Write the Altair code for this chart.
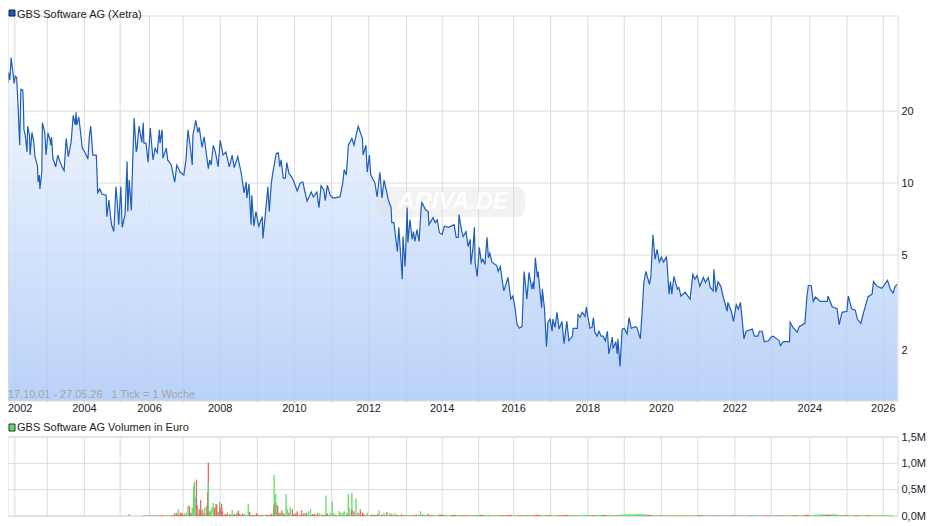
import altair as alt
import pandas as pd

# x axis counts ticks, 1 tick = 1 week
year_week = [11, 64, 117, 168, 210, 258, 311, 364, 417, 470, 523, 577, 628,
             680, 730, 783, 836, 888, 941, 993, 1046, 1098, 1153, 1206, 1258]
year_label = [str(y) for y in range(2002, 2027)]

# (week tick, price in euro)
price_2002 = [
    (0, 26.3), (1, 29), (3, 27), (5, 33.4), (8, 29), (10, 26.1), (12, 28), (14, 27.7), (16, 22.2), (19, 14.4),
    (21, 24.7), (24, 24.5), (25, 21.5), (26, 16.7), (28, 15.9), (31, 13.5), (32, 17.3), (35, 15.9), (36, 13.1),
    (39, 16.3), (42, 14.8), (44, 12.9), (48, 11.8), (49, 10.1), (51, 10.8), (52, 9.45), (55, 11.1), (56, 17.9),
    (60, 16.2), (62, 13.1), (65, 16.2), (68, 15.1), (69, 14.4), (70, 15.6), (72, 12.7), (76, 11.7), (79, 13.1),
    (82, 12.3), (85, 11.7), (88, 11.25), (91, 15.4), (94, 12.9), (98, 14.8), (101, 19.2), (104, 17.5), (105, 19.8),
    (106, 17.5), (109, 18.9), (114, 14), (118, 13.4), (122, 12.6), (124, 15.6), (126, 17.3), (129, 13.1), (134, 13.1),
    (136, 9.1), (139, 9.45), (142, 9), (148, 8.9), (149, 7.24), (152, 8.5), (154, 7.38), (156, 6.66), (159, 6.27),
    (162, 9.65), (164, 8.3), (166, 6.7), (169, 9.65), (171, 6.53), (175, 7.38), (178, 12.3), (179, 7.6), (181, 10.3),
    (184, 7.68), (186, 12.3), (188, 18.7), (191, 13.5), (192, 13.8), (195, 17.3), (199, 14.8), (201, 17.9), (202, 14.7),
    (205, 14.7), (208, 12.2), (211, 17), (214, 13.5), (215, 12.5), (218, 14), (221, 13.4), (224, 16.7), (225, 14.7),
    (228, 16.7), (229, 12.7), (234, 14), (236, 12.5), (241, 11.9), (246, 10.1), (249, 11.9), (254, 11.1), (259, 10.8),
]
price_2007 = [
    (262, 12.5), (265, 16.7), (269, 13.5), (271, 11.9), (272, 15.9), (276, 18.3), (279, 16.3), (281, 17.1), (285, 14.1),
    (288, 15.6), (294, 11.5), (296, 12.5), (298, 11.9), (301, 14.4), (304, 13.5), (308, 11.7), (311, 15.1), (315, 13.1),
    (319, 13.5), (324, 11.7), (328, 13.1), (331, 11.6), (336, 12.9), (341, 11), (345, 9.1), (348, 10.1), (349, 8.66),
    (352, 9.9), (355, 6.7), (356, 8.9), (359, 6.6), (362, 7.6), (366, 6.6), (371, 7.24), (372, 5.87), (375, 7.17),
    (379, 9.65), (381, 7.6), (384, 10), (386, 11), (391, 13.3), (394, 13.4), (396, 11.7), (398, 12.5), (401, 10.5),
    (404, 10.5), (406, 12.2), (409, 11), (414, 10.5), (418, 9.8), (421, 9.27), (425, 10), (429, 10.1), (432, 9.18),
    (435, 8.4), (441, 9.18), (444, 8.75), (449, 9.18), (452, 7.9), (455, 9.74), (459, 9.36), (461, 8.45), (464, 9.8),
    (468, 8.9), (472, 8.66), (482, 8.75), (486, 10), (488, 11.4), (491, 10.8), (494, 14.4), (499, 15.4), (502, 14.4),
    (508, 17.3), (514, 15.4), (515, 13.1), (519, 14.4), (521, 11.1), (524, 13.1), (526, 10.8), (532, 10), (535, 8.75),
    (539, 11.1), (542, 8.66), (545, 10.3), (548, 9.36), (551, 8.5), (555, 7.9), (556, 6.83), (559, 6.83), (564, 5.16),
    (566, 6.53), (571, 3.96), (572, 5.98), (575, 4.48), (578, 7.9), (579, 5.65), (582, 7.03), (585, 5.82), (587, 6.27),
    (589, 5.7), (592, 6.39), (595, 5.7), (598, 7.9), (599, 8.3), (604, 7.75), (608, 7.6), (609, 6.7), (615, 7.17),
    (618, 6.83), (621, 7.03), (624, 6.2), (628, 6.1), (631, 6.6), (637, 6.53), (645, 6.7), (648, 5.93), (651, 5.93),
]
price_2015 = [
    (652, 7.38), (656, 6.27), (658, 5.98), (662, 6.27), (665, 5.43), (668, 5.82), (669, 4.57), (672, 5.38), (674, 6.53),
    (675, 4.67), (678, 4.07), (681, 5.38), (684, 4.67), (686, 4.8), (689, 4.57), (692, 5.93), (694, 4.87), (696, 5.1),
    (699, 4.67), (706, 4.52), (708, 4.27), (711, 4.48), (714, 3.87), (716, 3.54), (722, 4.03), (726, 3.27), (729, 3.37),
    (732, 3.01), (735, 2.56), (738, 2.47), (742, 2.51), (745, 4.27), (749, 3.27), (752, 4.23), (756, 3.6), (758, 3.87),
    (759, 3.6), (761, 4.87), (764, 4.03), (765, 4.27), (767, 3.7), (770, 3.01), (771, 3.6), (774, 3.01), (777, 2.07),
    (779, 2.62), (782, 2.7), (785, 2.4), (786, 2.7), (789, 2.49), (792, 2.88), (795, 2.45), (799, 2.64), (802, 2.13),
    (806, 2.64), (809, 2.19), (814, 2.29), (815, 2.47), (821, 2.47), (822, 2.82), (825, 2.75), (828, 2.88), (832, 2.77),
    (834, 3.04), (836, 2.77), (839, 2.47), (842, 2.49), (844, 2.74), (846, 2.38), (849, 2.29), (852, 2.4), (855, 2.29),
    (858, 2.29), (861, 2.19), (864, 2.4), (866, 1.93), (871, 2.27), (872, 2.03), (876, 2.17), (878, 1.93), (879, 2.23),
    (882, 1.71), (885, 2.45), (888, 2.47), (892, 2.34), (895, 2.74), (898, 2.47), (904, 2.51), (906, 2.49), (911, 2.23),
    (914, 3.04), (916, 3.84), (919, 4.27), (924, 3.77), (926, 4.07), (929, 6.08), (932, 4.8), (935, 5.28), (938, 4.67),
]
price_2020 = [
    (941, 4.9), (944, 4.67), (948, 4.9), (949, 4.7), (952, 3.43), (954, 3.87), (956, 3.43), (959, 4.07), (964, 3.6),
    (966, 3.66), (969, 3.37), (975, 3.5), (982, 3.27), (986, 4.15), (989, 3.96), (992, 4.1), (996, 3.7), (1001, 4.03),
    (1004, 3.84), (1008, 4.03), (1011, 3.66), (1015, 3.54), (1016, 4.36), (1019, 3.5), (1022, 3.87), (1026, 3.7),
    (1029, 3.37), (1035, 2.91), (1036, 3.17), (1041, 2.91), (1044, 2.64), (1048, 3.1), (1051, 2.97), (1054, 3.17),
    (1056, 2.77), (1059, 2.23), (1062, 2.4), (1071, 2.45), (1074, 2.29), (1079, 2.29), (1081, 2.4), (1085, 2.4),
    (1088, 2.17), (1094, 2.19), (1098, 2.27), (1101, 2.29), (1106, 2.23), (1109, 2.2), (1111, 2.09), (1115, 2.17),
    (1124, 2.17), (1125, 2.62), (1129, 2.49), (1135, 2.38), (1138, 2.51), (1146, 2.59), (1149, 3.37), (1151, 3.73),
    (1155, 3.73), (1158, 3.2), (1161, 3.34), (1168, 3.2), (1178, 3.2), (1179, 3.37), (1185, 3.04), (1192, 2.98),
    (1195, 2.56), (1199, 2.88), (1206, 2.91), (1208, 3.37), (1213, 2.97), (1218, 2.94), (1221, 2.7), (1226, 2.59),
    (1229, 2.82), (1234, 3.17), (1236, 3.34), (1242, 3.43), (1244, 3.87), (1249, 3.7), (1256, 3.63), (1264, 3.92),
    (1268, 3.6), (1272, 3.47), (1275, 3.7), (1278, 3.77),
]

# weekly volume, million euro, g = up week, r = down week
vol_spikes = [
    (181, .03, 'r'), (246, .05, 'r'), (249, .06, 'r'), (251, .13, 'g'), (254, .06, 'r'), (256, .06, 'r'),
    (260, .05, 'g'), (263, .06, 'g'), (265, .2, 'g'), (267, .19, 'r'), (269, .06, 'r'), (271, .16, 'g'),
    (273, .57, 'g'), (274, .65, 'g'), (275, .35, 'g'), (277, .69, 'r'), (278, .21, 'r'), (281, .13, 'r'),
    (283, .3, 'r'), (285, .11, 'r'), (286, .13, 'g'), (288, .05, 'r'), (289, .16, 'g'), (292, .2, 'r'),
    (293, .46, 'r'), (294, 1.01, 'r'), (294, .63, 'g'), (295, .08, 'r'), (297, .11, 'g'), (299, .16, 'g'),
    (301, .25, 'g'), (303, .16, 'r'), (305, .23, 'r'), (306, .22, 'r'), (308, .08, 'r'), (310, .27, 'g'),
    (311, .16, 'r'), (313, .23, 'r'), (314, .09, 'r'), (318, .04, 'r'), (321, .06, 'r'), (325, .04, 'r'),
    (328, .11, 'g'), (331, .04, 'r'), (334, .06, 'g'), (336, .06, 'g'), (337, .1, 'r'), (339, .04, 'r'),
    (343, .05, 'r'), (346, .04, 'g'), (351, .23, 'g'), (353, .08, 'r'), (356, .02, 'r'), (360, .03, 'g'),
    (363, .05, 'r'), (368, .02, 'g'), (371, .03, 'r'), (377, .03, 'r'), (384, .04, 'r'), (387, .11, 'g'),
    (388, .78, 'g'), (388, .22, 'r'), (390, .42, 'g'), (391, .25, 'g'), (393, .2, 'r'), (395, .06, 'r'),
    (397, .06, 'g'), (399, .11, 'r'), (401, .05, 'r'), (403, .03, 'r'), (405, .42, 'g'), (407, .13, 'g'),
    (409, .06, 'r'), (411, .16, 'g'), (414, .13, 'r'), (416, .04, 'r'), (419, .05, 'r'), (421, .09, 'r'),
    (424, .03, 'g'), (427, .11, 'r'), (430, .05, 'r'), (432, .05, 'g'), (434, .06, 'r'), (437, .09, 'g'),
    (440, .13, 'g'), (443, .04, 'r'), (446, .04, 'r'), (450, .06, 'r'), (453, .05, 'g'), (457, .03, 'r'),
    (461, .04, 'g'), (462, .39, 'g'), (464, .05, 'r'), (468, .06, 'g'), (471, .27, 'g'), (473, .05, 'g'),
    (476, .03, 'r'), (481, .09, 'g'), (483, .06, 'g'), (486, .06, 'g'), (488, .09, 'g'), (492, .05, 'r'),
    (494, .42, 'g'), (495, .16, 'g'), (498, .11, 'g'), (499, .44, 'g'), (499, .13, 'r'), (502, .09, 'r'),
    (505, .33, 'g'), (508, .06, 'r'), (511, .13, 'r'), (514, .06, 'r'), (516, .04, 'r'), (521, .06, 'g'),
    (527, .03, 'r'), (531, .03, 'g'), (536, .04, 'r'), (538, .11, 'g'), (542, .03, 'r'), (545, .06, 'g'),
    (549, .08, 'r'), (553, .06, 'g'), (556, .04, 'r'), (560, .05, 'g'), (563, .03, 'r'), (570, .03, 'r'),
    (577, .02, 'g'), (582, .02, 'r'), (591, .03, 'r'), (594, .03, 'g'), (597, .09, 'g'), (600, .03, 'r'),
    (608, .04, 'r'), (615, .02, 'g'), (623, .03, 'r'), (627, .03, 'r'), (632, .01, 'g'),
]

# the thin strip of small volumes, a reading every 8 weeks from week 204
base_m = [
    .008, .01, .008, .012, .01, .012, .02, .025, .02, .02, .025, .02, .018, .02, .018, .02, .02, .015, .02, .018,
    .02, .015, .018, .02, .02, .018, .015, .02, .018, .02, .015, .02, .018, .015, .015, .012, .02, .015, .018, .012,
    .015, .018, .012, .015, .012, .018, .015, .012, .015, .012, .02, .015, .012, .018, .015, .02, .018, .015, .012, .018,
    .02, .015, .012, .018, .015, .02, .012, .015, .018, .012, .02, .015, .018, .012, .015, .02, .018, .012, .015, .02,
    .015, .018, .02, .015, .012, .025, .03, .03, .035, .03, .02, .015, .012, .01, .012, .01, .015, .01, .012, .015,
    .01, .012, .01, .008, .01, .012, .008, .01, .012, .01, .008, .012, .01, .012, .01, .012, .015, .012, .02, .015,
    .025, .03, .025, .03, .02, .015, .012, .015, .012, .015, .012, .01, .015, .012,
]
base_side = list(
    "rgrrgrrrgrrrgrrgrrgr"
    "rgrrgrgrrgrgrrgrgrgr"
    "grrgrgrgrrgrgrgrgrrg"
    "rgrgrrgrgrrgrgrrgrgg"
    "rgrgrgggggrgrrgrgrgr"
    "rgrrgrrgrgrrgrrgrgrg"
    "ggrggrgrgrgrgg"
)
base_week = [204 + 8 * i for i in range(len(base_m))]

price_ticks = [2, 5, 10, 20]
vol_ticks = [0, .5, 1, 1.5]
price_floor = 1.226

GRID = '#dadada'
FONT = 'Liberation Sans'

x_scale = alt.Scale(domain=[0, 64, 1279], range=[0, 39.3, 890], nice=False, zero=False, padding=0)
price_scale = alt.Scale(type='log', domain=[price_floor, 50], range=[385, 0], nice=False)
vol_scale = alt.Scale(domain=[0, 1.5], range=[500, 421], nice=False)
side_color = alt.Scale(domain=['g', 'r'], range=['#62dc66', '#e06868'])

px = alt.X('week:Q', scale=x_scale, axis=None)
py = alt.Y('price:Q', scale=price_scale, axis=None)
vy = alt.Y('vol:Q', scale=vol_scale, axis=None, stack=None)

prices = pd.DataFrame(price_2002 + price_2007 + price_2015 + price_2020, columns=['week', 'price'])
prices['floor'] = price_floor
spikes = pd.DataFrame(vol_spikes, columns=['week', 'vol', 'side'])
strip = pd.DataFrame({'week': base_week, 'vol': base_m, 'side': base_side[:len(base_m)]})
years = pd.DataFrame({'week': year_week, 'label': year_label})
even = years[::2]
one = pd.DataFrame({'a': [0]})

# grid
grid_top = alt.Chart(years).mark_rule(color=GRID, strokeWidth=1).encode(x=px, y=alt.value(0), y2=alt.value(387))
grid_low = alt.Chart(years).mark_rule(color=GRID, strokeWidth=1).encode(x=px, y=alt.value(421), y2=alt.value(500))
price_grid = alt.Chart(pd.DataFrame({'price': price_ticks})).mark_rule(color=GRID, strokeWidth=1).encode(
    y=alt.Y('price:Q', scale=price_scale, axis=alt.Axis(
        orient='right', values=price_ticks, format='d', title=None, domain=False, ticks=False, grid=False,
        labelPadding=3, labelFontSize=11, labelFont=FONT, labelColor='#222')),
    x=alt.value(0), x2=alt.value(890))
vol_grid = alt.Chart(pd.DataFrame({'vol': vol_ticks})).mark_rule(color=GRID, strokeWidth=1).encode(
    y=alt.Y('vol:Q', scale=vol_scale, axis=alt.Axis(
        orient='right', values=vol_ticks, title=None, domain=False, ticks=False, grid=False,
        labelExpr="replace(format(datum.value, '.1f'), '.', ',') + 'M'",
        labelPadding=3, labelFontSize=11, labelFont=FONT, labelColor='#222')),
    x=alt.value(0), x2=alt.value(890))

area = alt.Chart(prices).mark_area(
    opacity=0.85,
    orient='vertical',
    color=alt.Gradient(
        gradient='linear',
        stops=[alt.GradientStop(color='#f4f8ff', offset=0),
               alt.GradientStop(color='#adcaf7', offset=1)],
        x1=1, x2=1, y1=0, y2=1)
).encode(x=px, y=py, y2='floor:Q')

# watermark
mark_bg = alt.Chart(one).mark_rect(color='#dedede', opacity=0.4, cornerRadius=8).encode(
    x=alt.value(369), x2=alt.value(517), y=alt.value(171), y2=alt.value(201))
mark_txt = alt.Chart(one).mark_text(
    text='ARIVA.DE', font=FONT, fontSize=23.5, fontWeight='bold', fontStyle='italic',
    color='#ffffff', opacity=0.95, align='center', baseline='middle'
).encode(x=alt.value(445), y=alt.value(186))

line = alt.Chart(prices).mark_line(color='#1f5dbd', strokeWidth=1.2).encode(x=px, y=py)

strip_bars = alt.Chart(strip).mark_bar(width=5.6).encode(
    x=px, y=vy, color=alt.Color('side:N', scale=side_color, legend=None))
spike_bars = alt.Chart(spikes).mark_bar(width=1.3).encode(
    x=px, y=vy, color=alt.Color('side:N', scale=side_color, legend=None))

frame_top = alt.Chart(one).mark_rect(fill=None, stroke=GRID).encode(
    x=alt.value(0), x2=alt.value(890), y=alt.value(0), y2=alt.value(385))
frame_low = alt.Chart(one).mark_rect(fill=None, stroke=GRID).encode(
    x=alt.value(0), x2=alt.value(890), y=alt.value(421), y2=alt.value(500))

# year labels, the first one cannot hang over the page margin
year_text = alt.Chart(even[1:]).mark_text(font=FONT, fontSize=11, color='#222', baseline='middle').encode(
    x=px, y=alt.value(393), text='label:N')
first_year = alt.Chart(one).mark_text(
    text=year_label[0], font=FONT, fontSize=11, color='#222', baseline='middle', align='left'
).encode(x=alt.value(0), y=alt.value(393))

info = alt.Chart(one).mark_text(
    text='17.10.01 - 27.05.26\u00a0\u00a0\u00a01 Tick = 1 Woche', font=FONT, fontSize=10.9, color='#a6a6a6',
    align='left', baseline='middle'
).encode(x=alt.value(0), y=alt.value(379))

# legends
sw_top = alt.Chart(one).mark_rect(fill='#1c57b5', stroke='#14233f').encode(
    x=alt.value(1), x2=alt.value(7), y=alt.value(-6), y2=alt.value(0))
sw_low = alt.Chart(one).mark_rect(fill='#62dc66', stroke='#1d3a20').encode(
    x=alt.value(1), x2=alt.value(7), y=alt.value(408), y2=alt.value(415))
leg_top = alt.Chart(one).mark_text(
    text='GBS Software AG (Xetra)', font=FONT, fontSize=11, color='#222', align='left', baseline='alphabetic'
).encode(x=alt.value(9), y=alt.value(1.5))
leg_low = alt.Chart(one).mark_text(
    text='GBS Software AG Volumen in Euro', font=FONT, fontSize=11, color='#222', align='left', baseline='middle'
).encode(x=alt.value(9), y=alt.value(412))

chart = alt.layer(
    grid_top, grid_low, price_grid, vol_grid, area, mark_bg, mark_txt, line,
    frame_top, frame_low, strip_bars, spike_bars,
    year_text, first_year, info, sw_top, sw_low, leg_top, leg_low
).resolve_scale(y='independent').properties(
    width=890, height=500,
    autosize=alt.AutoSizeParams(type='none'),
    padding={'left': 0, 'top': 8, 'right': 34, 'bottom': 8}
).configure_view(stroke=None)

chart.save("out.html", embed_options={"renderer": "svg", "actions": False})
